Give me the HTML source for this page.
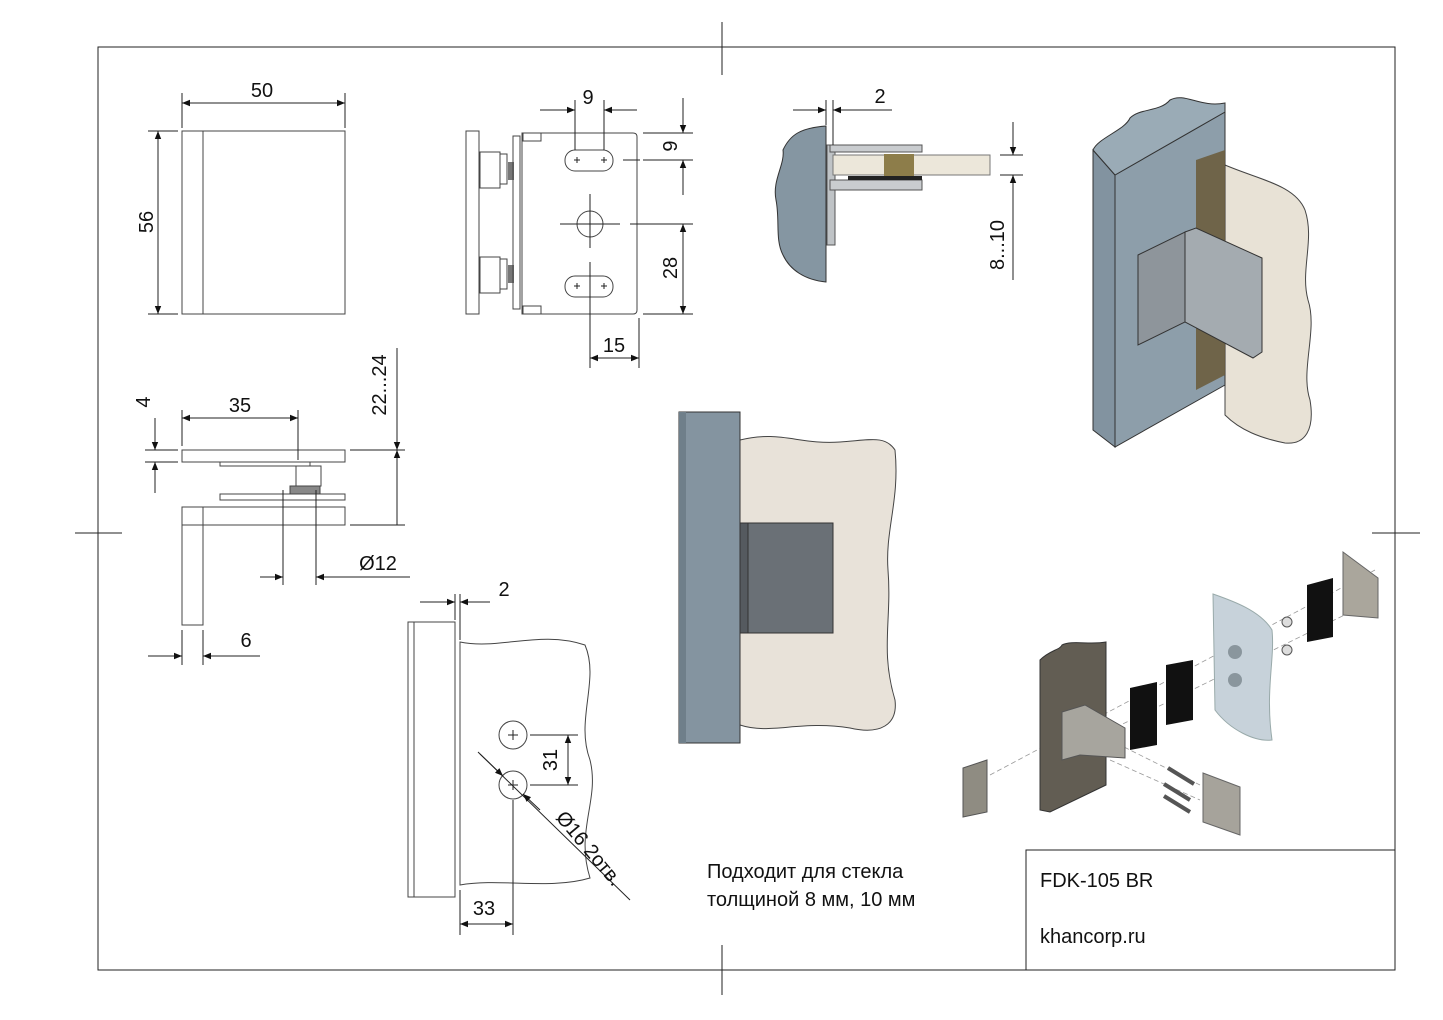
<!DOCTYPE html>
<html><head><meta charset="utf-8">
<style>
html,body{margin:0;padding:0;background:#fff;width:1443px;height:1020px;overflow:hidden}
svg{display:block}
text{font-family:"Liberation Sans",sans-serif;fill:#111}
</style></head><body>
<svg width="1443" height="1020" viewBox="0 0 1443 1020" xmlns="http://www.w3.org/2000/svg">
<defs>
<marker id="a" viewBox="0 0 10 10" refX="10" refY="5" markerWidth="12" markerHeight="8" orient="auto-start-reverse" markerUnits="userSpaceOnUse"><path d="M0,1 L10,5 L0,9z" fill="#111"/></marker>
</defs>
<g stroke="#222" stroke-width="1" fill="none">
<rect x="98" y="47" width="1297" height="923"/>
<line x1="722" y1="22" x2="722" y2="75"/><line x1="722" y1="945" x2="722" y2="995"/>
<line x1="75" y1="533" x2="122" y2="533"/><line x1="1372" y1="533" x2="1420" y2="533"/>
<polyline points="1026,970 1026,850 1395,850"/>

<rect x="182" y="131" width="163" height="183" stroke="#444"/>
<line x1="203" y1="131" x2="203" y2="314" stroke="#444"/>
<line x1="182" y1="93" x2="182" y2="128"/><line x1="345" y1="93" x2="345" y2="128"/>
<line x1="182" y1="103" x2="345" y2="103" marker-start="url(#a)" marker-end="url(#a)"/>
<line x1="148" y1="131" x2="178" y2="131"/><line x1="148" y1="314" x2="178" y2="314"/>
<line x1="158" y1="131" x2="158" y2="314" marker-start="url(#a)" marker-end="url(#a)"/>

<rect x="466" y="131" width="13" height="183" stroke="#444"/>
<rect x="480" y="152" width="20" height="36" stroke="#444"/><rect x="500" y="154" width="7" height="30" stroke="#444"/>
<rect x="480" y="257" width="20" height="36" stroke="#444"/><rect x="500" y="259" width="7" height="30" stroke="#444"/>
<rect x="508" y="162" width="6" height="18" fill="#777" stroke="none"/><rect x="508" y="265" width="6" height="18" fill="#777" stroke="none"/>
<rect x="513" y="136" width="7" height="173" stroke="#444"/>
<path d="M522,133 L633,133 Q637,133 637,137 L637,310 Q637,314 633,314 L522,314 Z" stroke="#444"/>
<rect x="523" y="133" width="18" height="8" stroke="#444"/><rect x="523" y="306" width="18" height="8" stroke="#444"/>
<rect x="565" y="150" width="48" height="21" rx="10" stroke="#444"/>
<rect x="565" y="276" width="48" height="21" rx="10" stroke="#444"/>
<circle cx="590" cy="224" r="13" stroke="#444"/>
<path d="M574,160h6M577,157v6M601,160h6M604,157v6M574,286h6M577,283v6M601,286h6M604,283v6M586,224h8M590,220v8"/>
<line x1="560" y1="224" x2="620" y2="224"/><line x1="590" y1="194" x2="590" y2="248"/><line x1="590" y1="262" x2="590" y2="368"/>
<line x1="623" y1="160" x2="640" y2="160"/>
<line x1="575" y1="100" x2="575" y2="150"/><line x1="604" y1="100" x2="604" y2="150"/>
<line x1="540" y1="110" x2="575" y2="110" marker-end="url(#a)"/><line x1="604" y1="110" x2="637" y2="110" marker-start="url(#a)"/>
<line x1="643" y1="133" x2="693" y2="133"/><line x1="643" y1="160" x2="693" y2="160"/>
<line x1="683" y1="98" x2="683" y2="133" marker-end="url(#a)"/><line x1="683" y1="160" x2="683" y2="195" marker-start="url(#a)"/>
<line x1="630" y1="224" x2="693" y2="224"/><line x1="643" y1="314" x2="693" y2="314"/>
<line x1="683" y1="224" x2="683" y2="314" marker-start="url(#a)" marker-end="url(#a)"/>
<line x1="639" y1="318" x2="639" y2="368"/>
<line x1="590" y1="358" x2="639" y2="358" marker-start="url(#a)" marker-end="url(#a)"/>
</g>
<text x="262" y="97" font-size="20" text-anchor="middle">50</text>
<text transform="translate(153,222) rotate(-90)" font-size="20" text-anchor="middle">56</text>
<text x="588" y="104" font-size="20" text-anchor="middle">9</text>
<text transform="translate(677,146) rotate(-90)" font-size="20" text-anchor="middle">9</text>
<text transform="translate(677,268) rotate(-90)" font-size="20" text-anchor="middle">28</text>
<text x="614" y="352" font-size="20" text-anchor="middle">15</text>

<path d="M826,126 L826,282 C805,280 790,270 783,255 C775,240 780,220 776,200 C772,180 785,165 783,150 C790,135 800,128 826,126Z" fill="#8596a2" stroke="#333"/>
<rect x="827" y="145" width="8" height="100" fill="#bfc3c6" stroke="#555"/>
<rect x="830" y="145" width="92" height="7" fill="#c9cccf" stroke="#555"/>
<rect x="830" y="180" width="92" height="10" fill="#c9cccf" stroke="#555"/>
<rect x="848" y="176" width="74" height="4" fill="#222"/>
<rect x="833" y="155" width="157" height="20" fill="#ece7da" stroke="#777"/>
<rect x="884" y="154" width="30" height="22" fill="#8d7d4a"/>
<g stroke="#222" stroke-width="1" fill="none">
<line x1="793" y1="110" x2="826" y2="110" marker-end="url(#a)"/><line x1="833" y1="110" x2="892" y2="110" marker-start="url(#a)"/>
<line x1="826" y1="100" x2="826" y2="125"/><line x1="833" y1="100" x2="833" y2="145"/>
<line x1="1000" y1="155" x2="1023" y2="155"/><line x1="1000" y1="175" x2="1023" y2="175"/>
<line x1="1013" y1="122" x2="1013" y2="155" marker-end="url(#a)"/><line x1="1013" y1="175" x2="1013" y2="280" marker-start="url(#a)"/>
</g>
<text x="880" y="103" font-size="20" text-anchor="middle">2</text>
<text transform="translate(1004,245) rotate(-90)" font-size="20" text-anchor="middle">8...10</text>

<!-- 3D top right -->
<path d="M1225,165 C1260,180 1295,185 1305,210 C1315,240 1300,270 1308,300 C1318,330 1300,370 1310,400 C1315,430 1305,445 1285,443 C1260,438 1240,430 1225,415 Z" fill="#e8e2d6" stroke="#444"/>
<polygon points="1196,160 1225,150 1225,375 1196,390" fill="#6b5d3e"/>
<polygon points="1115,175 1225,112 1225,385 1115,447" fill="#8d9eaa" stroke="#333"/>
<polygon points="1093,150 1115,175 1115,447 1093,430" fill="#8293a0" stroke="#333"/>
<path d="M1093,150 C1098,138 1125,130 1130,118 C1140,108 1160,112 1170,100 C1185,92 1200,108 1225,103 L1225,112 L1115,175 Z" fill="#9aabb6" stroke="#333"/>
<polygon points="1196,160 1225,150 1225,375 1196,390" fill="#6b5d3e" opacity="0.9"/>
<polygon points="1185,232 1196,228 1262,258 1262,352 1253,358 1185,322" fill="#a4abb0" stroke="#333"/>
<polygon points="1138,255 1185,232 1185,322 1138,345" fill="#8e959b" stroke="#333"/>

<g stroke="#444" stroke-width="1" fill="none">
<rect x="182" y="450" width="163" height="12"/>
<rect x="220" y="462" width="90" height="4"/>
<rect x="296" y="466" width="25" height="20"/><rect x="290" y="486" width="30" height="8" fill="#888"/>
<rect x="220" y="494" width="125" height="6"/>
<rect x="182" y="507" width="163" height="18"/>
<rect x="182" y="507" width="21" height="118"/>
</g>
<g stroke="#222" stroke-width="1" fill="none">
<line x1="182" y1="410" x2="182" y2="446"/><line x1="298" y1="410" x2="298" y2="460"/>
<line x1="182" y1="418" x2="298" y2="418" marker-start="url(#a)" marker-end="url(#a)"/>
<line x1="145" y1="450" x2="178" y2="450"/><line x1="145" y1="462" x2="178" y2="462"/>
<line x1="155" y1="418" x2="155" y2="450" marker-end="url(#a)"/><line x1="155" y1="462" x2="155" y2="493" marker-start="url(#a)"/>
<line x1="350" y1="450" x2="405" y2="450"/><line x1="350" y1="525" x2="405" y2="525"/>
<line x1="397" y1="348" x2="397" y2="450" marker-end="url(#a)"/><line x1="397" y1="450" x2="397" y2="525" marker-start="url(#a)"/>
<line x1="283" y1="490" x2="283" y2="585"/><line x1="316" y1="490" x2="316" y2="585"/>
<line x1="260" y1="577" x2="283" y2="577" marker-end="url(#a)"/><line x1="316" y1="577" x2="410" y2="577" marker-start="url(#a)"/>
<line x1="182" y1="630" x2="182" y2="665"/><line x1="203" y1="630" x2="203" y2="665"/>
<line x1="148" y1="656" x2="182" y2="656" marker-end="url(#a)"/><line x1="203" y1="656" x2="260" y2="656" marker-start="url(#a)"/>
</g>
<text x="240" y="412" font-size="20" text-anchor="middle">35</text>
<text transform="translate(150,402) rotate(-90)" font-size="20" text-anchor="middle">4</text>
<text transform="translate(386,385) rotate(-90)" font-size="20" text-anchor="middle">22...24</text>
<text x="378" y="570" font-size="20" text-anchor="middle">Ø12</text>
<text x="246" y="647" font-size="20" text-anchor="middle">6</text>

<g stroke="#444" stroke-width="1" fill="none">
<rect x="408" y="622" width="47" height="275"/><line x1="414" y1="622" x2="414" y2="897"/>
<path d="M460,642 C500,650 540,630 585,645 C600,680 575,720 590,760 C600,800 575,830 590,878 C550,890 500,878 460,885 Z"/>
<circle cx="513" cy="735" r="14"/><circle cx="513" cy="785" r="14"/>
</g>
<g stroke="#222" stroke-width="1" fill="none">
<path d="M508,735h10M513,730v10M508,785h10M513,780v10"/>
<line x1="455" y1="594" x2="455" y2="620"/><line x1="460" y1="594" x2="460" y2="640"/>
<line x1="420" y1="602" x2="455" y2="602" marker-end="url(#a)"/><line x1="460" y1="602" x2="490" y2="602" marker-start="url(#a)"/>
<line x1="530" y1="735" x2="578" y2="735"/><line x1="530" y1="785" x2="578" y2="785"/>
<line x1="568" y1="735" x2="568" y2="785" marker-start="url(#a)" marker-end="url(#a)"/>
<line x1="478" y1="752" x2="630" y2="900"/>
<line x1="480" y1="754" x2="503" y2="776" marker-end="url(#a)"/><line x1="523" y1="794" x2="540" y2="810" marker-start="url(#a)"/>
<line x1="460" y1="890" x2="460" y2="935"/><line x1="513" y1="800" x2="513" y2="935"/>
<line x1="460" y1="924" x2="513" y2="924" marker-start="url(#a)" marker-end="url(#a)"/>
</g>
<text x="504" y="596" font-size="20" text-anchor="middle">2</text>
<text transform="translate(557,760) rotate(-90)" font-size="20" text-anchor="middle">31</text>
<text transform="translate(555,818) rotate(50)" font-size="20">Ø16 2отв.</text>
<text x="484" y="915" font-size="20" text-anchor="middle">33</text>

<path d="M740,440 C780,430 800,445 840,442 C870,440 885,435 895,450 C900,500 885,530 888,570 C892,620 880,650 895,700 C898,725 880,735 850,728 C800,720 770,735 740,725 Z" fill="#e8e2d9" stroke="#444"/>
<rect x="679" y="412" width="61" height="331" fill="#8494a0" stroke="#333"/>
<rect x="679" y="412" width="7" height="331" fill="#6f7f8a"/>
<rect x="740" y="523" width="8" height="110" fill="#555a5f" stroke="#333"/>
<rect x="748" y="523" width="85" height="110" fill="#6a7076" stroke="#333"/>

<g stroke="#999" stroke-width="0.8" stroke-dasharray="5,3" fill="none">
<line x1="990" y1="775" x2="1375" y2="570"/><line x1="1080" y1="745" x2="1375" y2="600"/>
<line x1="1110" y1="740" x2="1200" y2="785"/><line x1="1110" y1="760" x2="1200" y2="800"/>
</g>
<polygon points="963,768 987,760 987,812 963,817" fill="#8f8c82" stroke="#555"/>
<path d="M1040,660 C1050,650 1060,650 1062,645 C1072,640 1090,645 1106,642 L1106,785 L1050,812 L1040,810 Z" fill="#625d53" stroke="#333"/>
<polygon points="1062,712 1085,705 1125,728 1125,758 1080,755 1062,760" fill="#a7a59e" stroke="#555"/>
<polygon points="1130,688 1157,682 1157,745 1130,750" fill="#111"/>
<polygon points="1166,665 1193,660 1193,720 1166,725" fill="#111"/>
<path d="M1213,594 C1230,600 1260,610 1272,630 C1275,660 1265,690 1272,740 C1255,742 1230,730 1215,710 Z" fill="#c7d2da" stroke="#9aa"/>
<circle cx="1235" cy="652" r="7" fill="#8a969d"/><circle cx="1235" cy="680" r="7" fill="#8a969d"/>
<circle cx="1287" cy="622" r="5" fill="#ddd" stroke="#555"/><circle cx="1287" cy="650" r="5" fill="#ddd" stroke="#555"/>
<polygon points="1307,585 1333,578 1333,637 1307,642" fill="#111"/>
<polygon points="1343,552 1378,578 1378,618 1343,615" fill="#aaa69c" stroke="#666"/>
<g stroke="#555" stroke-width="4"><line x1="1168" y1="768" x2="1194" y2="784"/><line x1="1164" y1="784" x2="1190" y2="800"/><line x1="1164" y1="796" x2="1190" y2="812"/></g>
<polygon points="1203,773 1240,787 1240,835 1203,822" fill="#a6a39b" stroke="#666"/>
</svg>
<div style="position:absolute;left:707px;top:858px;font:20px 'Liberation Sans',sans-serif;line-height:28px;color:#111">Подходит для стекла<br>толщиной 8 мм, 10 мм</div>
<div style="position:absolute;left:1040px;top:870px;font:20px 'Liberation Sans',sans-serif;color:#111">FDK-105 BR</div>
<div style="position:absolute;left:1040px;top:926px;font:20px 'Liberation Sans',sans-serif;color:#111">khancorp.ru</div>
</body></html>
